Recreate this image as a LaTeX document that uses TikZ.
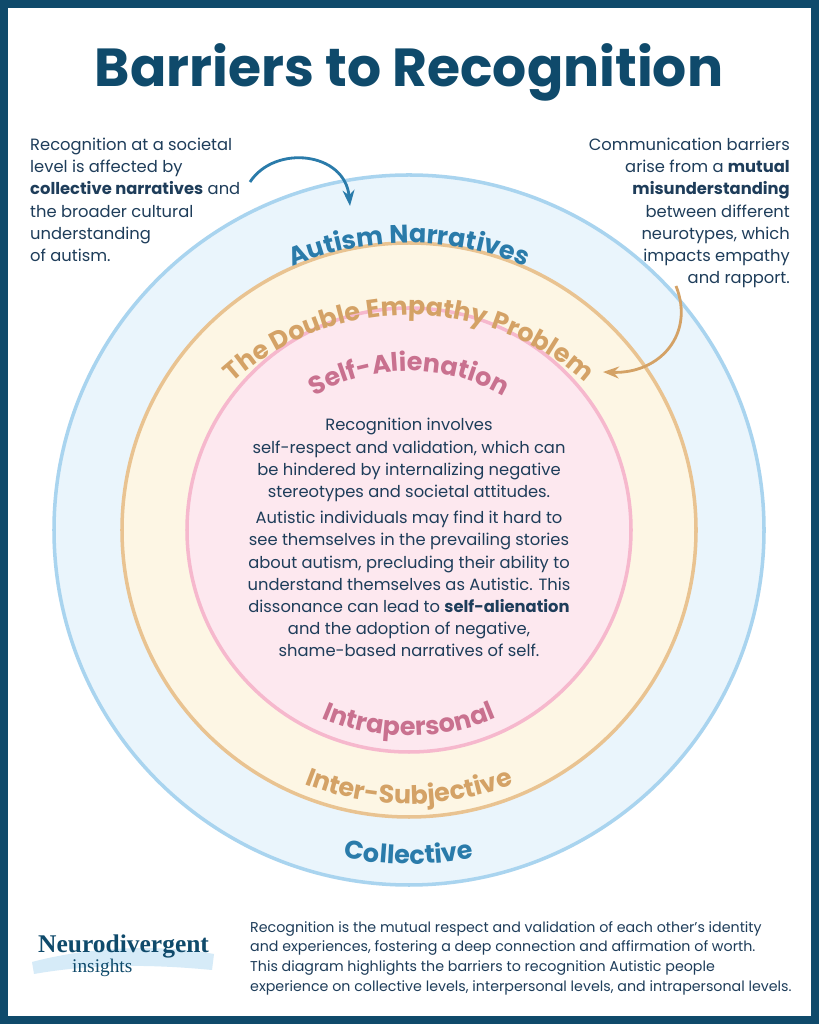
\documentclass[tikz,border=0pt]{standalone}
\usepackage{fontspec}
\setmainfont{Poppins}
\newfontfamily\logofont{Liberation Serif}
\usetikzlibrary{decorations.text,arrows.meta}
\definecolor{navy}{HTML}{0F4A6B}
\definecolor{ink}{HTML}{1E3D5A}
\definecolor{ringblue}{HTML}{A9D4EF}
\definecolor{fillblue}{HTML}{EAF5FC}
\definecolor{ringtan}{HTML}{E9C391}
\definecolor{filltan}{HTML}{FDF6E4}
\definecolor{ringpink}{HTML}{F6B8CD}
\definecolor{fillpink}{HTML}{FDE8EF}
\definecolor{labblue}{HTML}{2A7BAA}
\definecolor{labtan}{HTML}{D4A266}
\definecolor{labpink}{HTML}{C9718F}
\tikzset{
  body/.style={text=ink, font=\fontsize{9.3}{12.6}\selectfont},
}
\newcommand{\arctext}[5]{% center y, radius, half angle, colour, text
  \path[decorate, decoration={text along path, text align=center,
      text={|\fontsize{14.5}{14.5}\selectfont\bfseries\color{#4}|#5}}]
    (409,#1) ++(90+#3:#2) arc[start angle=90+#3, end angle=90-#3, radius=#2];}
\newcommand{\arctextlow}[5]{%
  \path[decorate, decoration={text along path, text align=center,
      text={|\fontsize{14.5}{14.5}\selectfont\bfseries\color{#4}|#5}}]
    (409,#1) ++(270-#3:#2) arc[start angle=270-#3, end angle=270+#3, radius=#2];}
\begin{document}
\begin{tikzpicture}[x=0.02cm,y=0.02cm]
\useasboundingbox (0,0) rectangle (819,1024);
\fill[white] (0,0) rectangle (819,1024);
\draw[navy, line width=8*0.567pt] (4,4) rectangle (815,1020);

% title
\node (title) at (409,952) {\fontsize{30.5}{30.5}\selectfont\bfseries\color{navy}Barriers to Recognition};

% rings
\draw[ringblue, fill=fillblue, line width=2pt] (409,494) circle (355);
\draw[ringtan, fill=filltan, line width=2pt] (409,494) circle (287);
\draw[ringpink, fill=fillpink, line width=2pt] (409,494) circle (222);

% ring labels
\arctext{476}{305}{32}{labblue}{Autism Narratives}
\arctext{447}{262}{60}{labtan}{The Double Empathy Problem}
\arctext{465}{188}{45}{labpink}{Self-Alienation}
\arctextlow{510}{222}{32}{labpink}{Intrapersonal}
\arctextlow{505}{285}{30}{labtan}{Inter-Subjective}
\arctextlow{510}{350}{18}{labblue}{Collective}

% inner text
\node[body, align=center] (inner1) at (409,564) {Recognition involves\\self-respect and validation, which can\\be hindered by internalizing negative\\stereotypes and societal attitudes.};
\node[body, align=center] (inner2) at (409,440) {Autistic individuals may find it hard to\\see themselves in the prevailing stories\\about autism, precluding their ability to\\understand themselves as Autistic. This\\dissonance can lead to \textbf{self-alienation}\\and the adoption of negative,\\shame-based narratives of self.};

% side notes
\node[body, align=left, anchor=north west] (leftnote) at (24,892) {Recognition at a societal\\level is affected by\\\textbf{collective narratives} and\\the broader cultural\\understanding\\of autism.};
\node[body, align=right, anchor=north east] (rightnote) at (796,892) {Communication barriers\\arise from a \textbf{mutual}\\\textbf{misunderstanding}\\between different\\neurotypes, which\\impacts empathy\\and rapport.};

\coordinate (bluestart) at (250,842);
\coordinate (blueend) at (350,818);
\draw[labblue, line width=1.6pt, -{Stealth[length=9pt]}] (bluestart) .. controls (275,880) and (345,872) .. (blueend);
\coordinate (tanstart) at (676,738);
\coordinate (tanend) at (603,652);
\draw[labtan, line width=1.6pt, -{Stealth[length=9pt]}] (tanstart) .. controls (695,690) and (660,650) .. (tanend);

% footer
\fill[fillblue!70!ringblue] (32,62) .. controls (100,80) and (170,78) .. (214,70) -- (212,54) .. controls (150,60) and (90,60) .. (34,50) -- cycle;
\node[anchor=west] (logo) at (32,78) {\logofont\fontsize{14.5}{14.5}\selectfont\bfseries\color{navy}Neurodivergent};
\node[anchor=west] (logosub) at (66,56) {\logofont\fontsize{11}{11}\selectfont\color{navy}insights};
\node[anchor=west, align=left, text=ink, font=\fontsize{8.1}{11.2}\selectfont] (footnote) at (244,66) {Recognition is the mutual respect and validation of each other’s identity\\and experiences, fostering a deep connection and affirmation of worth.\\This diagram highlights the barriers to recognition Autistic people\\experience on collective levels, interpersonal levels, and intrapersonal levels.};
\end{tikzpicture}
\end{document}
